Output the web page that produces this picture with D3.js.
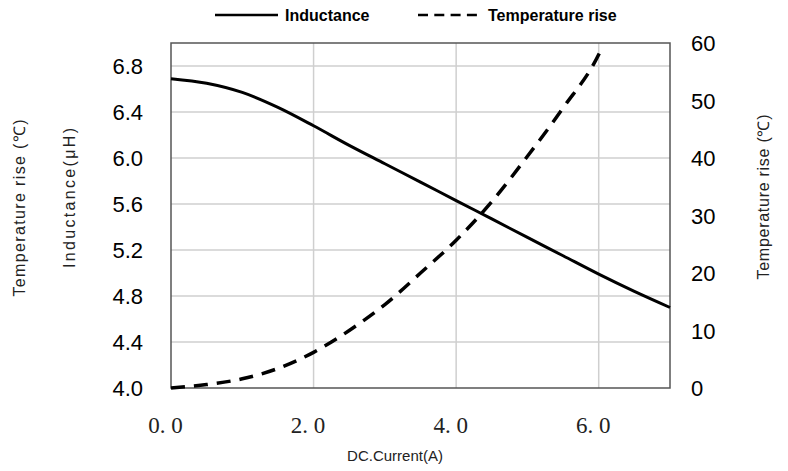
<!DOCTYPE html>
<html>
<head>
<meta charset="utf-8">
<script src="https://cdn.jsdelivr.net/npm/d3@7"></script>
<style>
  body { margin: 0; background: #fff; }
  text { font-family: "Liberation Sans", Arial, sans-serif; fill: #000; }
</style>
</head>
<body>
<div id="chart"></div>
<script>
// data
var currentA = [0, 0.5, 1.0, 1.5, 2.0, 2.5, 3.0, 3.5, 4.0, 4.5, 5.0, 5.5, 6.0, 6.5, 7.0];
var inductanceUH = [6.69, 6.65, 6.57, 6.44, 6.28, 6.11, 5.95, 5.79, 5.63, 5.47, 5.31, 5.15, 4.99, 4.84, 4.70];

var tempCurrentA = [0, 0.5, 1.0, 1.5, 2.0, 2.5, 3.0, 3.5, 4.0, 4.5, 5.0, 5.5, 6.0, 6.05];
var tempRiseC = [0, 0.6, 1.6, 3.4, 6.2, 10.0, 14.5, 20.0, 25.7, 32.4, 40.3, 48.7, 58.0, 59.3];

var xTicks = [0, 2, 4, 6];
var leftTicks = [4.0, 4.4, 4.8, 5.2, 5.6, 6.0, 6.4, 6.8];
var rightTicks = [0, 10, 20, 30, 40, 50, 60];

var svgWidth = 788;
var svgHeight = 471;

var margins = { top: 43, right: 118, bottom: 83, left: 171 };

var width = svgWidth - margins.left - margins.right;
var height = svgHeight - margins.top - margins.bottom;

var svg = d3.select('#chart')
    .append('svg')
    .attr('width', svgWidth)
    .attr('height', svgHeight);

var chartGroup = svg.append('g')
    .attr('transform', `translate(${margins.left},${margins.top})`);

// scales
var xScale = d3.scaleLinear().domain([0, 7]).range([0, width]);
var yLeft = d3.scaleLinear().domain([4, 7]).range([height, 0]);
var yRight = d3.scaleLinear().domain([0, 60]).range([height, 0]);

// gridlines
chartGroup.append('g')
    .selectAll('line')
    .data(leftTicks.slice(1))
    .enter()
    .append('line')
    .attr('x1', 0)
    .attr('x2', width)
    .attr('y1', d => yLeft(d))
    .attr('y2', d => yLeft(d))
    .attr('stroke', '#cfcfcf')
    .attr('stroke-width', 1.5);

chartGroup.append('g')
    .selectAll('line')
    .data(xTicks.slice(1))
    .enter()
    .append('line')
    .attr('x1', d => xScale(d))
    .attr('x2', d => xScale(d))
    .attr('y1', 0)
    .attr('y2', height)
    .attr('stroke', '#cfcfcf')
    .attr('stroke-width', 1.5);

// frame
chartGroup.append('rect')
    .attr('width', width)
    .attr('height', height)
    .attr('fill', 'none')
    .attr('stroke', '#555')
    .attr('stroke-width', 1.5);

// axes (labels only)
var bottomAxis = d3.axisBottom(xScale)
    .tickValues(xTicks)
    .tickSize(0)
    .tickPadding(0)
    .tickFormat(d => d3.format('.1f')(d).replace('.', '. '));

var xAxis = chartGroup.append('g')
    .attr('transform', `translate(0, ${height})`)
    .call(bottomAxis);
xAxis.select('.domain').remove();
xAxis.selectAll('text')
    .attr('x', -6)
    .attr('y', 45)
    .attr('dy', 0)
    .style('font-family', '"Liberation Serif", serif')
    .style('font-size', '23px')
    .style('fill', '#222');

var leftAxis = d3.axisLeft(yLeft)
    .tickValues(leftTicks)
    .tickSize(0)
    .tickPadding(28)
    .tickFormat(d3.format('.1f'));

var yAxisL = chartGroup.append('g').call(leftAxis);
yAxisL.select('.domain').remove();
yAxisL.selectAll('text')
    .attr('dy', '0.36em')
    .style('font-family', '"Liberation Sans", Arial, sans-serif')
    .style('font-size', '22px');

var rightAxis = d3.axisRight(yRight)
    .tickValues(rightTicks)
    .tickSize(0)
    .tickPadding(21);

var yAxisR = chartGroup.append('g')
    .attr('transform', `translate(${width}, 0)`)
    .call(rightAxis);
yAxisR.select('.domain').remove();
yAxisR.selectAll('text')
    .attr('dy', '0.36em')
    .style('font-family', '"Liberation Sans", Arial, sans-serif')
    .style('font-size', '22px');

// lines
var inductanceLine = d3.line()
    .x((d, i) => xScale(currentA[i]))
    .y(d => yLeft(d))
    .curve(d3.curveMonotoneX);

var tempLine = d3.line()
    .x((d, i) => xScale(tempCurrentA[i]))
    .y(d => yRight(d))
    .curve(d3.curveMonotoneX);

chartGroup.append('path')
    .datum(inductanceUH)
    .attr('d', inductanceLine)
    .attr('fill', 'none')
    .attr('stroke', '#000')
    .attr('stroke-width', 3);

chartGroup.append('path')
    .datum(tempRiseC)
    .attr('d', tempLine)
    .attr('fill', 'none')
    .attr('stroke', '#000')
    .attr('stroke-width', 3.5)
    .attr('stroke-dasharray', '14,9');

// axis titles
svg.append('text')
    .attr('transform', 'translate(25, 208) rotate(-90)')
    .attr('text-anchor', 'middle')
    .attr('textLength', 177)
    .attr('lengthAdjust', 'spacing')
    .style('font-size', '16px')
    .style('fill', '#222')
    .text('Temperature rise (℃)');

svg.append('text')
    .attr('transform', 'translate(75, 198) rotate(-90)')
    .attr('text-anchor', 'middle')
    .attr('textLength', 140)
    .attr('lengthAdjust', 'spacing')
    .style('font-size', '16px')
    .style('fill', '#222')
    .text('Inductance(μH)');

svg.append('text')
    .attr('transform', 'translate(769, 197) rotate(-90)')
    .attr('text-anchor', 'middle')
    .attr('textLength', 165)
    .attr('lengthAdjust', 'spacing')
    .style('font-size', '16px')
    .style('fill', '#222')
    .text('Temperature rise (℃)');

svg.append('text')
    .attr('x', 395)
    .attr('y', 461)
    .attr('text-anchor', 'middle')
    .style('font-size', '15px')
    .style('fill', '#222')
    .text('DC.Current(A)');

// legend
var legend = svg.append('g');
legend.append('line')
    .attr('x1', 215).attr('x2', 278)
    .attr('y1', 15).attr('y2', 15)
    .attr('stroke', '#000')
    .attr('stroke-width', 2.5);
legend.append('text')
    .attr('x', 285)
    .attr('y', 21)
    .style('font-size', '16px')
    .style('font-weight', 'bold')
    .text('Inductance');
legend.append('line')
    .attr('x1', 418).attr('x2', 477)
    .attr('y1', 15).attr('y2', 15)
    .attr('stroke', '#000')
    .attr('stroke-width', 2.5)
    .attr('stroke-dasharray', '10,6.3');
legend.append('text')
    .attr('x', 488)
    .attr('y', 21)
    .style('font-size', '16px')
    .style('font-weight', 'bold')
    .text('Temperature rise');
</script>
</body>
</html>
